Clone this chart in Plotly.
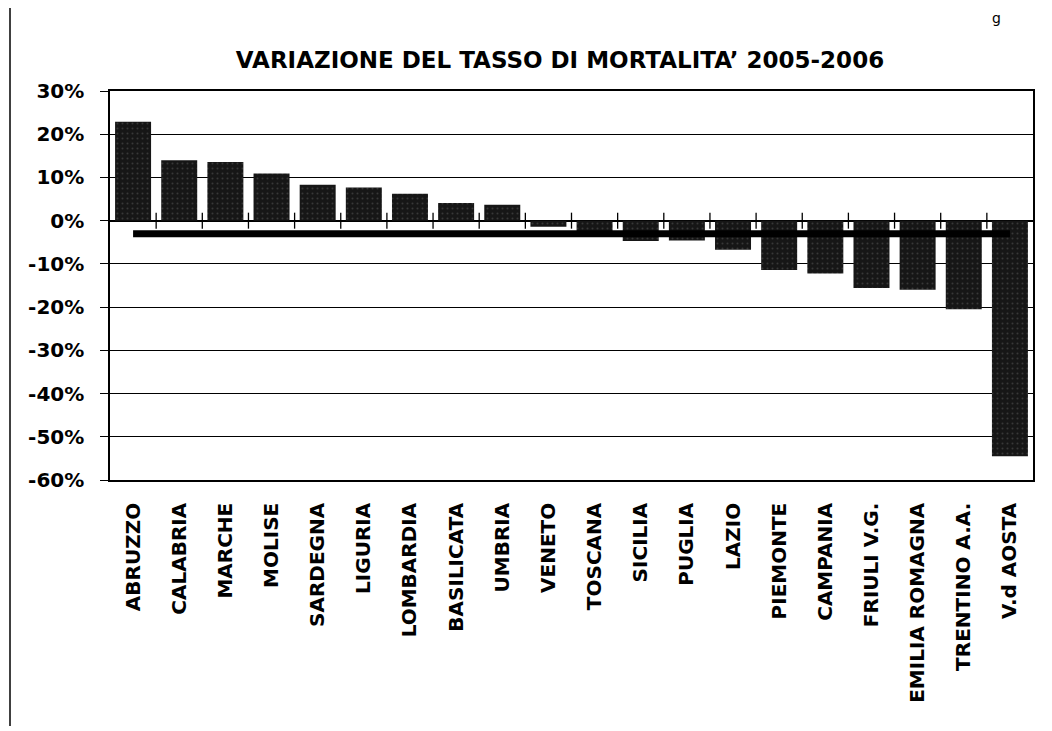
import plotly.graph_objects as go

regioni = ["ABRUZZO", "CALABRIA", "MARCHE", "MOLISE", "SARDEGNA", "LIGURIA",
           "LOMBARDIA", "BASILICATA", "UMBRIA", "VENETO", "TOSCANA", "SICILIA",
           "PUGLIA", "LAZIO", "PIEMONTE", "CAMPANIA", "FRIULI V.G.",
           "EMILIA ROMAGNA", "TRENTINO A.A.", "V.d AOSTA"]
variazione = [22.9, 14.0, 13.6, 10.9, 8.3, 7.7, 6.2, 4.1, 3.7, -1.4, -3.2,
              -4.7, -4.6, -6.7, -11.4, -12.2, -15.6, -16.0, -20.5, -54.5]
media = -3.0
titolo = "VARIAZIONE DEL TASSO DI MORTALITA’ 2005-2006"
y_ticks = [30, 20, 10, 0, -10, -20, -30, -40, -50, -60]
y_labels = ["30%", "20%", "10%", "0%", "-10%", "-20%", "-30%", "-40%",
            "-50%", "-60%"]

# the page body adds an 8px offset, so the figure is drawn 8px smaller
OFF = 8
W, H = 1052 - OFF, 731 - OFF
ML, MR, MT, MB = 110 - OFF, 19, 91 - OFF, 251
pw, ph = W - ML - MR, H - MT - MB

FONT = "DejaVu Sans"

fig = go.Figure()
fig.add_bar(x=regioni, y=variazione, width=0.78,
            marker=dict(color="#161616", line=dict(width=0),
                        pattern=dict(shape=".", fgcolor="#5a5a5a",
                                     bgcolor="#161616", size=5,
                                     solidity=0.12, fillmode="overlay")),
            showlegend=False)
fig.add_scatter(x=regioni, y=[media] * len(regioni), mode="lines",
                line=dict(color="black", width=7), showlegend=False)

shapes = []
# category boundary tick marks crossing the zero line
for i in range(len(regioni) - 1):
    shapes.append(dict(type="line", xref="x", yref="y", x0=i + 0.5, x1=i + 0.5,
                       ysizemode="pixel", yanchor=0, y0=-8, y1=8,
                       line=dict(color="black", width=1.3)))
# page margin line from the scan
lx = (10 - OFF - ML) / pw
shapes.append(dict(type="line", xref="paper", yref="paper",
                   x0=lx, x1=lx,
                   y0=(H - MB) / ph, y1=(H - MB - 718) / ph,
                   line=dict(color="black", width=1.5)))

fig.update_layout(
    width=W, height=H,
    margin=dict(l=ML, r=MR, t=MT, b=MB),
    paper_bgcolor="white", plot_bgcolor="white",
    bargap=0.22,
    shapes=shapes,
    title=dict(text=titolo, x=(560 - OFF) / W, xanchor="center",
               y=1 - (60 - OFF) / H, yanchor="middle",
               font=dict(family=FONT, size=23, color="black", weight="bold")),
    annotations=[dict(text="g", xref="paper", yref="paper",
                      x=(996 - OFF - ML) / pw, y=(H - MB) / ph,
                      xanchor="center", yanchor="top", showarrow=False,
                      font=dict(family=FONT, size=14, color="black"))],
)
fig.update_xaxes(
    showline=True, linecolor="black", linewidth=1.5, mirror=True,
    ticks="", tickangle=-90, ticklabelstandoff=13,
    tickfont=dict(family=FONT, size=20, color="black", weight="bold"),
    showgrid=False,
)
fig.update_yaxes(
    range=[-60, 30], tickvals=y_ticks, ticktext=y_labels,
    showline=True, linecolor="black", linewidth=1.5, mirror=True,
    ticks="outside", ticklen=8, tickcolor="black", tickwidth=1.3,
    ticklabelstandoff=12,
    showgrid=True, gridcolor="black", gridwidth=1.3,
    zeroline=True, zerolinecolor="black", zerolinewidth=1.5,
    tickfont=dict(family=FONT, size=20, color="black", weight="bold"),
)

fig.write_html("out.html")
